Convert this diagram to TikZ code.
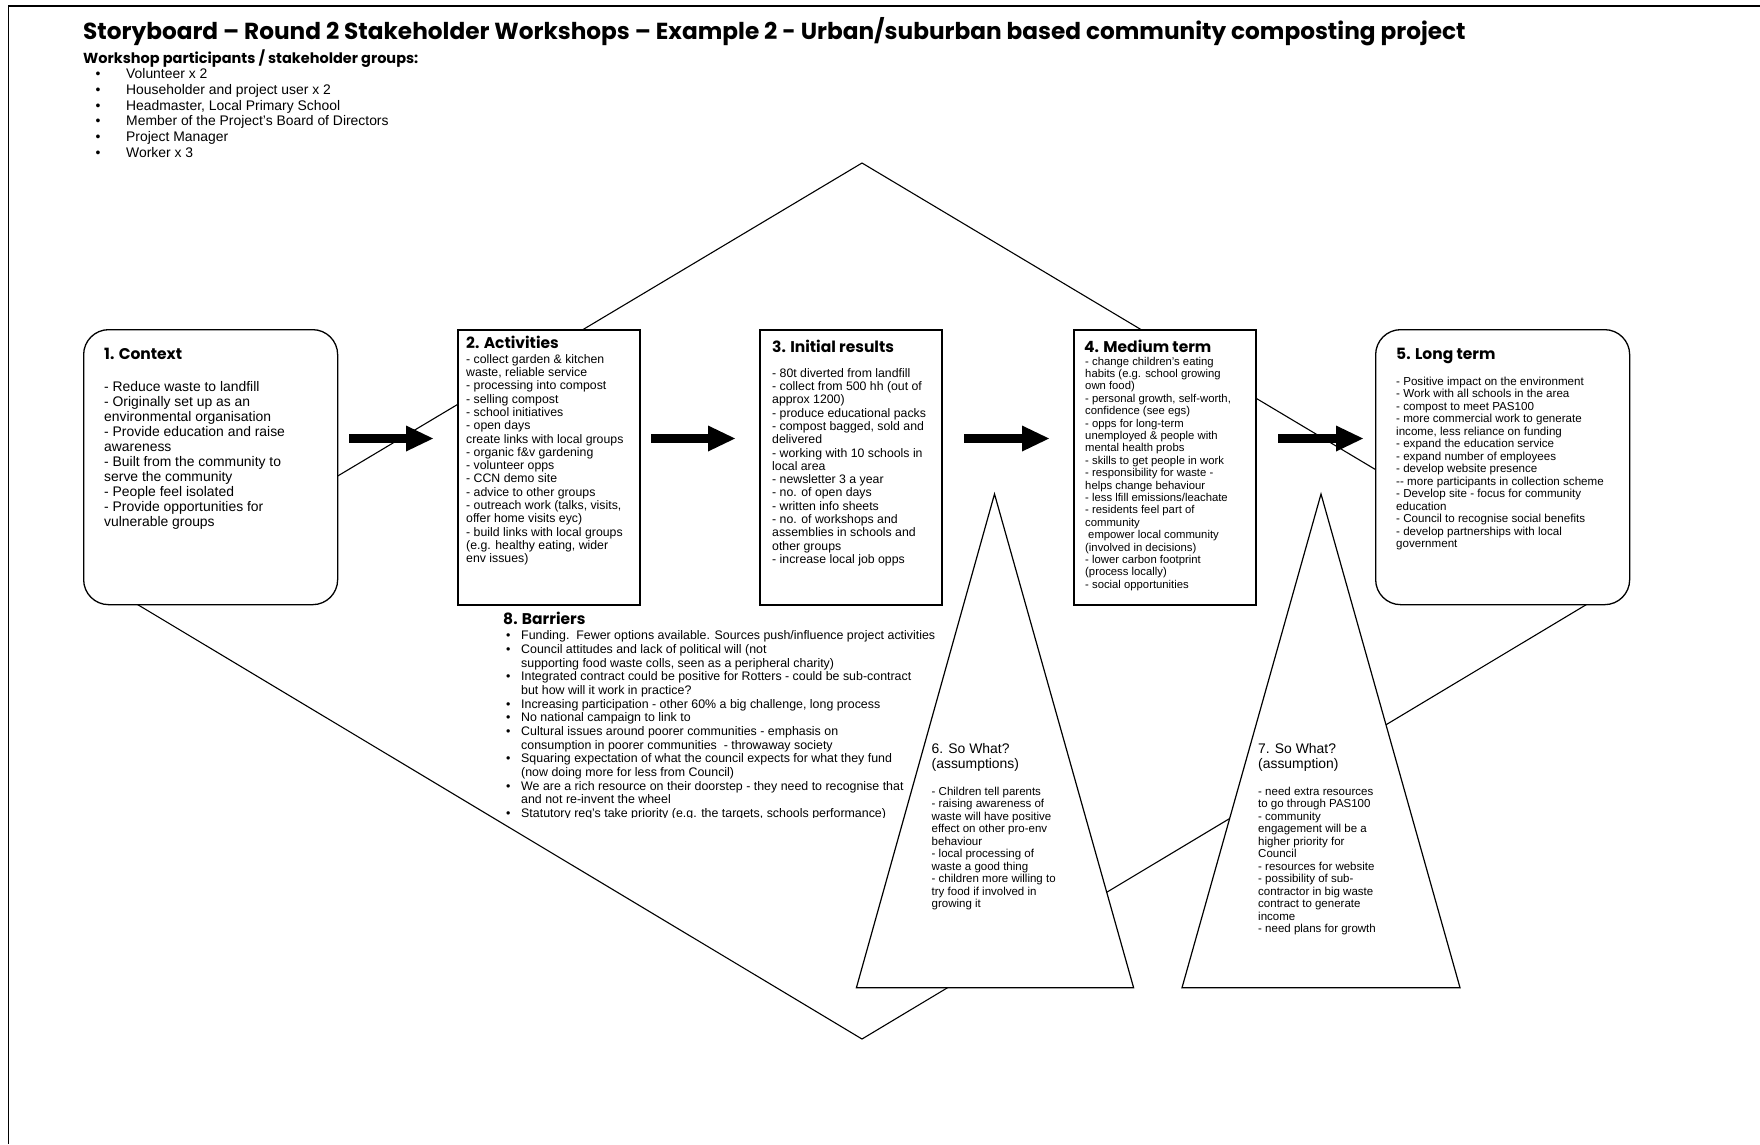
\documentclass[tikz,border=0pt]{standalone}
\usepackage{fontspec}
\setmainfont{Liberation Sans}
\newfontfamily\headfont{Poppins}
\usetikzlibrary{arrows.meta}
\begin{document}
\begin{tikzpicture}[x=1pt,y=-1pt,
  frame/.style={line width=1.5pt},
  outline/.style={line width=1.1pt},
  plainbox/.style={draw, fill=white, line width=2pt, anchor=north west, inner sep=0pt, minimum width=182pt, minimum height=275pt},
  softbox/.style={draw, fill=white, line width=1.3pt, rounded corners=25pt, anchor=north west, inner sep=0pt, minimum width=254pt, minimum height=275pt},
  cone/.style={draw, fill=white, line width=1.2pt},
  flow/.style={line width=9pt, -{Triangle[length=27pt,width=26pt,line width=0pt]}},
  head/.style={anchor=base west, inner sep=0pt, font=\headfont\bfseries\fontsize{15.5}{18}\selectfont},
  body/.style={anchor=north west, inner sep=0pt, align=left},
]
\useasboundingbox (0,0) rectangle (1760,1144);

% page frame (top and left edges)
\draw[frame] (1760,6) -- (8.5,6) -- (8.5,1144);

% large diamond behind the storyboard
\coordinate (dT) at (862,163);
\coordinate (dR) at (1594,600);
\coordinate (dB) at (862,1039);
\coordinate (dL) at (130,600);
\draw[outline] (dT) -- (dR) -- (dB) -- (dL) -- cycle;

% the five stage boxes
\node[softbox]  (context)    at (83,329)   {};
\node[plainbox] (activities) at (457,329)  {};
\node[plainbox] (initial)    at (759,329)  {};
\node[plainbox] (medium)     at (1073,329) {};
\node[softbox]  (longterm)   at (1375,329) {};

% the two "so what" triangles
\coordinate (sA) at (994.5,494);
\coordinate (sL) at (856.4,987.7);
\coordinate (sR) at (1133.6,987.7);
\draw[cone] (sA) -- (sR) -- (sL) -- cycle;
\coordinate (tA) at (1321,494);
\coordinate (tL) at (1182,987.7);
\coordinate (tR) at (1460,987.7);
\draw[cone] (tA) -- (tR) -- (tL) -- cycle;

% block arrows between the stages
\coordinate (f1a) at (349,438.5);  \coordinate (f1b) at (433,438.5);
\coordinate (f2a) at (651,438.5);  \coordinate (f2b) at (735,438.5);
\coordinate (f3a) at (964,438.5);  \coordinate (f3b) at (1049,438.5);
\coordinate (f4a) at (1278,438.5); \coordinate (f4b) at (1363,438.5);
\draw[flow] (f1a) -- (f1b);
\draw[flow] (f2a) -- (f2b);
\draw[flow] (f3a) -- (f3b);
\draw[flow] (f4a) -- (f4b);

% heading and participant list
\node[anchor=base west, inner sep=0pt, font=\headfont\bfseries\fontsize{23.2}{27}\selectfont] (title) at (83,39.5)
  {Storyboard – Round 2 Stakeholder Workshops – Example 2 - Urban/suburban based community composting project};
\node[anchor=base west, inner sep=0pt, font=\headfont\bfseries\fontsize{14.5}{17}\selectfont] (subtitle) at (83,63)
  {Workshop participants / stakeholder groups:};
\node[body, font=\fontsize{13.9}{15.8}\selectfont] (people) at (95.5,67.2)
  {\strut\makebox[30.5pt][l]{\textbullet}Volunteer x 2\\
   \makebox[30.5pt][l]{\textbullet}Householder and project user x 2\\
   \makebox[30.5pt][l]{\textbullet}Headmaster, Local Primary School\\
   \makebox[30.5pt][l]{\textbullet}Member of the Project’s Board of Directors\\
   \makebox[30.5pt][l]{\textbullet}Project Manager\\
   \makebox[30.5pt][l]{\textbullet}Worker x 3};

% 1. Context
\node[head] (contexthead) at (104,359) {1. Context};
\node[body, font=\fontsize{13.9}{15}\selectfont] (contexttext) at (104,380.5)
  {\strut - Reduce waste to landfill\\
   - Originally set up as an\\
   environmental organisation\\
   - Provide education and raise\\
   awareness\\
   - Built from the community to\\
   serve the community\\
   - People feel isolated\\
   - Provide opportunities for\\
   vulnerable groups};

% 2. Activities
\node[head] (activitieshead) at (466,348) {2. Activities};
\node[body, font=\fontsize{12.3}{13.3}\selectfont] (activitiestext) at (466,353.7)
  {\strut - collect garden \& kitchen\\
   waste, reliable service\\
   - processing into compost\\
   - selling compost\\
   - school initiatives\\
   - open days\\
   create links with local groups\\
   - organic f\&v gardening\\
   - volunteer opps\\
   - CCN demo site\\
   - advice to other groups\\
   - outreach work (talks, visits,\\
   offer home visits eyc)\\
   - build links with local groups\\
   (e.g. healthy eating, wider\\
   env issues)};

% 3. Initial results
\node[head] (initialhead) at (772,352) {3. Initial results};
\node[body, font=\fontsize{12.3}{13.3}\selectfont] (initialtext) at (772,367.7)
  {\strut - 80t diverted from landfill\\
   - collect from 500 hh (out of\\
   approx 1200)\\
   - produce educational packs\\
   - compost bagged, sold and\\
   delivered\\
   - working with 10 schools in\\
   local area\\
   - newsletter 3 a year\\
   - no. of open days\\
   - written info sheets\\
   - no. of workshops and\\
   assemblies in schools and\\
   other groups\\
   - increase local job opps};

% 4. Medium term
\node[head] (mediumhead) at (1084,352) {4. Medium term};
\node[body, font=\fontsize{11.3}{12.4}\selectfont] (mediumtext) at (1085,356.3)
  {\strut - change children’s eating\\
   habits (e.g. school growing\\
   own food)\\
   - personal growth, self-worth,\\
   confidence (see egs)\\
   - opps for long-term\\
   unemployed \& people with\\
   mental health probs\\
   - skills to get people in work\\
   - responsibility for waste -\\
   helps change behaviour\\
   - less lfill emissions/leachate\\
   - residents feel part of\\
   community\\
   \hspace*{3pt}empower local community\\
   (involved in decisions)\\
   - lower carbon footprint\\
   (process locally)\\
   - social opportunities};

% 5. Long term
\node[head] (longtermhead) at (1396,359) {5. Long term};
\node[body, font=\fontsize{11.6}{12.5}\selectfont] (longtermtext) at (1396,376.5)
  {\strut - Positive impact on the environment\\
   - Work with all schools in the area\\
   - compost to meet PAS100\\
   - more commercial work to generate\\
   income, less reliance on funding\\
   - expand the education service\\
   - expand number of employees\\
   - develop website presence\\
   -{}- more participants in collection scheme\\
   - Develop site - focus for community\\
   education\\
   - Council to recognise social benefits\\
   - develop partnerships with local\\
   government};

% 8. Barriers (the last line is cut off at the foot of its text frame)
\node[head] (barriershead) at (503,624) {8. Barriers};
\begin{scope}
  \clip (480,600) rectangle (960,817.5);
  \node[body, font=\fontsize{12.4}{13.66}\selectfont] (barrierstext) at (506,630)
    {\strut\makebox[15pt][l]{\textbullet}Funding.\ \ Fewer options available. Sources push/influence project activities\\
     \makebox[15pt][l]{\textbullet}Council attitudes and lack of political will (not\\
     \hspace*{15pt}supporting food waste colls, seen as a peripheral charity)\\
     \makebox[15pt][l]{\textbullet}Integrated contract could be positive for Rotters - could be sub-contract\\
     \hspace*{15pt}but how will it work in practice?\\
     \makebox[15pt][l]{\textbullet}Increasing participation - other 60\% a big challenge, long process\\
     \makebox[15pt][l]{\textbullet}No national campaign to link to\\
     \makebox[15pt][l]{\textbullet}Cultural issues around poorer communities - emphasis on\\
     \hspace*{15pt}consumption in poorer communities\ \ - throwaway society\\
     \makebox[15pt][l]{\textbullet}Squaring expectation of what the council expects for what they fund\\
     \hspace*{15pt}(now doing more for less from Council)\\
     \makebox[15pt][l]{\textbullet}We are a rich resource on their doorstep - they need to recognise that\\
     \hspace*{15pt}and not re-invent the wheel\\
     \makebox[15pt][l]{\textbullet}Statutory req’s take priority (e.g. the targets, schools performance)};
\end{scope}

% 6. So What?
\node[body, font=\fontsize{13.9}{15}\selectfont] (sowhat6head) at (931.5,742.5)
  {\strut 6. So What?\\(assumptions)};
\node[body, font=\fontsize{11.5}{12.5}\selectfont] (sowhat6text) at (931.5,786.3)
  {\strut - Children tell parents\\
   - raising awareness of\\
   waste will have positive\\
   effect on other pro-env\\
   behaviour\\
   - local processing of\\
   waste a good thing\\
   - children more willing to\\
   try food if involved in\\
   growing it};

% 7. So What?
\node[body, font=\fontsize{13.9}{15}\selectfont] (sowhat7head) at (1258,742.5)
  {\strut 7. So What?\\(assumption)};
\node[body, font=\fontsize{11.5}{12.5}\selectfont] (sowhat7text) at (1258,786.3)
  {\strut - need extra resources\\
   to go through PAS100\\
   - community\\
   engagement will be a\\
   higher priority for\\
   Council\\
   - resources for website\\
   - possibility of sub-\\
   contractor in big waste\\
   contract to generate\\
   income\\
   - need plans for growth};
\end{tikzpicture}
\end{document}
